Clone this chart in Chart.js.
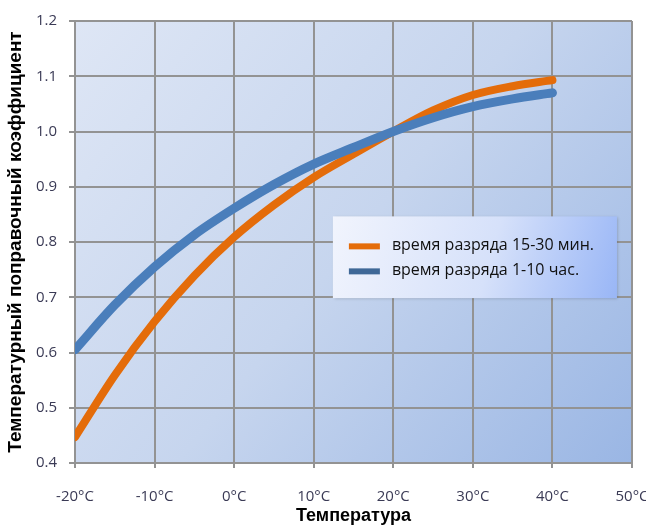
<!DOCTYPE html>
<html>
<head>
<meta charset="utf-8">
<script src="https://cdn.jsdelivr.net/npm/chart.js@4.4.1/dist/chart.umd.min.js"></script>
<style>
html,body{margin:0;padding:0;background:#fff;}
#wrap{width:646px;height:525px;position:relative;}
</style>
</head>
<body>
<div id="wrap"><canvas id="c" width="646" height="525"></canvas></div>
<script>
const temperatures = [-20, -15, -10, -5, 0, 5, 10, 15, 20, 25, 30, 35, 40];
const shortDischarge = [0.447, 0.559, 0.656, 0.739, 0.809, 0.867, 0.917, 0.959, 1.0, 1.038, 1.066, 1.082, 1.093];
const longDischarge = [0.605, 0.686, 0.755, 0.813, 0.861, 0.904, 0.941, 0.971, 1.0, 1.025, 1.045, 1.059, 1.070];
const seriesNames = ['время разряда 15-30 мин.', 'время разряда 1-10 час.'];
const seriesColors = ['#E46C0A', '#4A7EBB'];
const legendLineColors = ['#E46C0A', '#3F6897'];
const xTickValues = [-20, -10, 0, 10, 20, 30, 40, 50];
const yTickValues = [0.4, 0.5, 0.6, 0.7, 0.8, 0.9, 1.0, 1.1, 1.2];
const xTitle = 'Температура';
const yTitle = 'Температурный поправочный коэффициент';

const bgPlugin = {
  id: 'plotBg',
  beforeDraw(chart) {
    const {ctx, chartArea: a} = chart;
    const g = ctx.createLinearGradient(a.left, a.top, a.right, a.bottom);
    g.addColorStop(0, '#DEE6F5');
    g.addColorStop(0.5, '#C6D5EE');
    g.addColorStop(1, '#9AB6E4');
    ctx.save();
    ctx.fillStyle = g;
    ctx.fillRect(a.left, a.top, a.right - a.left, a.bottom - a.top);
    ctx.restore();
  }
};

const legendPlugin = {
  id: 'boxLegend',
  afterDatasetsDraw(chart) {
    const {ctx, chartArea: a} = chart;
    const w = a.right - a.left, h = a.bottom - a.top;
    const x0 = a.left + w * 0.463, x1 = a.left + w * 0.973;
    const y0 = a.top + h * 0.442, y1 = a.top + h * 0.627;
    ctx.save();
    ctx.shadowColor = 'rgba(0,0,0,0.22)';
    ctx.shadowBlur = 3;
    ctx.shadowOffsetX = 1;
    ctx.shadowOffsetY = 1;
    const g = ctx.createLinearGradient(x0, y0, x1, y1);
    g.addColorStop(0, '#F1F4FD');
    g.addColorStop(0.55, '#D6E1FA');
    g.addColorStop(1, '#99B6F6');
    ctx.fillStyle = g;
    ctx.fillRect(x0, y0, x1 - x0, y1 - y0);
    ctx.restore();
    ctx.save();
    ctx.font = '16px "Open Sans"';
    ctx.textBaseline = 'middle';
    ctx.textAlign = 'left';
    const rows = [y0 + 30, y0 + 55];
    seriesNames.forEach((name, i) => {
      ctx.strokeStyle = legendLineColors[i];
      ctx.lineWidth = 6;
      ctx.lineCap = 'butt';
      ctx.beginPath();
      ctx.moveTo(x0 + 16, rows[i]);
      ctx.lineTo(x0 + 47, rows[i]);
      ctx.stroke();
      ctx.fillStyle = '#111';
      ctx.fillText(name, x0 + 59, rows[i] - 1);
    });
    ctx.restore();
  }
};

const mk = (ys) => temperatures.map((t, i) => ({x: t, y: ys[i]}));

new Chart(document.getElementById('c'), {
  type: 'line',
  data: {
    datasets: [
      {label: seriesNames[0], data: mk(shortDischarge), borderColor: seriesColors[0], borderWidth: 8, order: 2},
      {label: seriesNames[1], data: mk(longDischarge), borderColor: seriesColors[1], borderWidth: 9, order: 1}
    ]
  },
  options: {
    responsive: false,
    animation: false,
    devicePixelRatio: 1,
    layout: {padding: {left: 0, right: 14, top: 15, bottom: 0}},
    elements: {
      point: {radius: 0},
      line: {cubicInterpolationMode: 'monotone', borderCapStyle: 'round', borderJoinStyle: 'round', fill: false}
    },
    datasets: {line: {clip: {left: 0, top: 10, right: 10, bottom: 10}}},
    plugins: {legend: {display: false}, tooltip: {enabled: false}},
    scales: {
      x: {
        type: 'linear',
        min: -20, max: 50,
        afterBuildTicks(s) { s.ticks = xTickValues.map(v => ({value: v})); },
        afterFit(s) { s.height = 62; s.paddingLeft = 0; s.paddingRight = 0; },
        ticks: {callback: v => v + '°C', color: '#3a3a55', font: {family: 'Open Sans', size: 15}, padding: 20, maxRotation: 0, autoSkip: false},
        grid: {color: '#939393', lineWidth: 2, tickLength: 5, drawTicks: true},
        border: {color: '#939393', width: 2},
        title: {display: true, text: xTitle, color: '#000', font: {family: 'Liberation Sans', size: 18, weight: 'bold', lineHeight: 1}, padding: {top: 0, bottom: 0}}
      },
      y: {
        min: 0.4, max: 1.2,
        afterBuildTicks(s) { s.ticks = yTickValues.map(v => ({value: v})); },
        afterFit(s) { s.width = 75; },
        ticks: {callback: v => Number(v).toFixed(1), color: '#3a3a55', font: {family: 'Open Sans', size: 15}, padding: 12},
        grid: {color: '#939393', lineWidth: 2, tickLength: 6},
        border: {color: '#939393', width: 2},
        title: {display: true, text: yTitle, color: '#000', font: {family: 'Liberation Sans', size: 19, weight: 'bold', lineHeight: 1.2}, padding: {top: 4, bottom: 0}}
      }
    }
  },
  plugins: [bgPlugin, legendPlugin]
});
</script>
</body>
</html>
